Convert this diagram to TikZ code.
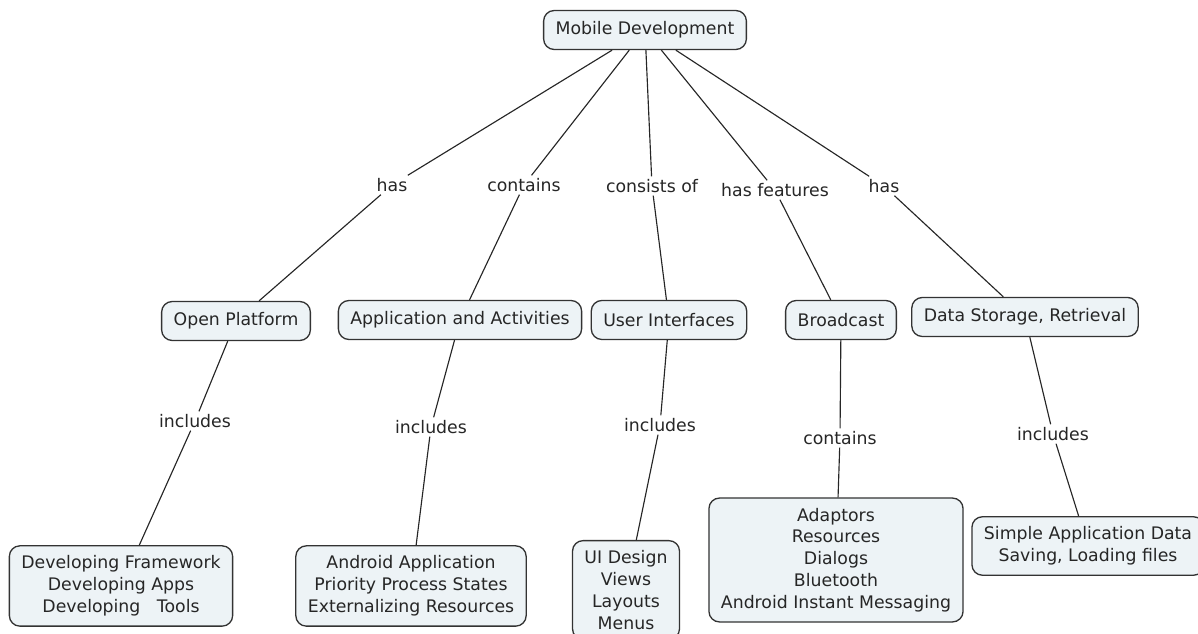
\documentclass[tikz,border=0pt]{standalone}
\usepackage{fontspec}
\setmainfont{DejaVu Sans}
\usepackage{tikz}
\usetikzlibrary{positioning}
\definecolor{conceptfill}{RGB}{237,243,246}
\definecolor{conceptline}{RGB}{51,51,51}
\newcommand{\conceptfont}{\fontsize{9.85}{12.4}\selectfont}
\tikzset{
  concept/.style={
    rectangle,
    rounded corners=6pt,
    draw=conceptline,
    fill=conceptfill,
    line width=0.75pt,
    align=center,
    inner xsep=0.24cm,
    inner ysep=0.2cm,
    minimum height=0.78cm,
    font=\conceptfont,
    text=black!85
  },
  linklabel/.style={
    inner sep=1.5pt,
    font=\conceptfont,
    text=black!85
  },
  link/.style={
    draw=black!85,
    line width=0.65pt
  }
}

\begin{document}
\begin{tikzpicture}[x=0.02cm, y=-0.02cm]
  \useasboundingbox (0,0) rectangle (1198,634);

  % ------------------------------------------------------------------
  % Root and first level
  % ------------------------------------------------------------------
  \node[concept] (mobile) at (645,30) {Mobile Development};

  \node[concept] (platform)   at (236,321)  {Open Platform};
  \node[concept] (activities) at (460,320)  {Application and Activities};
  \node[concept] (ui)         at (669,320)  {User Interfaces};
  \node[concept] (broadcast)  at (841,320)  {Broadcast};
  \node[concept] (storage)    at (1025,317) {Data Storage, Retrieval};

  % link words, upper row
  \node[linklabel] (lhas)      at (392,185) {has};
  \node[linklabel] (lcontains) at (524,185) {contains};
  \node[linklabel] (lconsists) at (652,186) {consists of};
  \node[linklabel] (lfeatures) at (775,190) {has features};
  \node[linklabel] (lhastwo)   at (884,186) {has};

  \draw[link] (mobile) -- (lhas)      -- (platform);
  \draw[link] (mobile) -- (lcontains) -- (activities);
  \draw[link] (mobile) -- (lconsists) -- (ui);
  \draw[link] (mobile) -- (lfeatures) -- (broadcast);
  \draw[link] (mobile) -- (lhastwo)   -- (storage);

  % ------------------------------------------------------------------
  % Second level
  % ------------------------------------------------------------------
  \node[concept] (developing) at (121,586)
    {Developing Framework\\Developing Apps\\Developing\ \ \ Tools};
  \node[concept] (android) at (411,586)
    {Android Application\\Priority Process States\\Externalizing Resources};
  \node[concept] (design) at (626,590)
    {UI Design\\Views\\Layouts\\Menus};
  \node[concept] (adaptors) at (836,560)
    {Adaptors\\Resources\\Dialogs\\Bluetooth\\Android Instant Messaging};
  \node[concept] (simple) at (1088,546)
    {Simple Application Data\\Saving, Loading files};

  % link words, lower row
  \node[linklabel] (lincone)   at (195,421)  {includes};
  \node[linklabel] (linctwo)   at (431,427)  {includes};
  \node[linklabel] (lincthree) at (660,425)  {includes};
  \node[linklabel] (lcontwo)   at (840,438)  {contains};
  \node[linklabel] (lincfour)  at (1053,434) {includes};

  \draw[link] (platform)   -- (lincone)   -- (developing);
  \draw[link] (activities) -- (linctwo)   -- (android);
  \draw[link] (ui)         -- (lincthree) -- (design);
  \draw[link] (broadcast)  -- (lcontwo)   -- (adaptors);
  \draw[link] (storage)    -- (lincfour)  -- (simple);
\end{tikzpicture}
\end{document}
